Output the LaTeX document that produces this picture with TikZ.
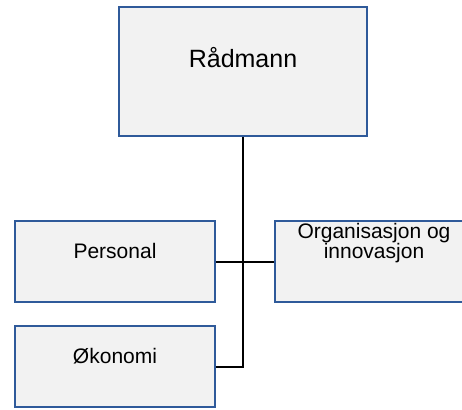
\documentclass[tikz,border=0pt]{standalone}
\usepackage{fontspec}
\setmainfont{Liberation Sans}
\definecolor{boxblue}{HTML}{2F5A9A}
\definecolor{boxfill}{HTML}{F2F2F2}
\begin{document}
\begin{tikzpicture}[x=1pt,y=-1pt,
  orgbox/.style={draw=boxblue,fill=boxfill,line width=2pt,inner sep=0pt},
  lbl/.style={anchor=base,inner sep=0pt,align=center,font=\fontsize{21}{20}\selectfont},
  conn/.style={draw=black,line width=2pt}]
\useasboundingbox (0,0) rectangle (462,409);
\clip (0,0) rectangle (462,409);
\node[orgbox,minimum width=248pt,minimum height=129pt] (R) at (243,71.5) {};
\node[orgbox,minimum width=200pt,minimum height=81pt] (P) at (115,261.5) {};
\node[orgbox,minimum width=198pt,minimum height=81pt] (O) at (374,261.5) {};
\node[orgbox,minimum width=200pt,minimum height=81pt] (K) at (115,366.5) {};
\node[lbl,font=\fontsize{25}{25}\selectfont] (tR) at (243,68) {Rådmann};
\node[lbl] (tP) at (115,258) {Personal};
\node[lbl] (tO) at (374,258) {Organisasjon og\\innovasjon};
\node[lbl] (tK) at (115,363) {Økonomi};
\coordinate (j) at (R.south |- K.east);
\draw[conn] (R.south) -- (j) -- (K.east);
\draw[conn] (P.east) -- (O.west);
\end{tikzpicture}
\end{document}
